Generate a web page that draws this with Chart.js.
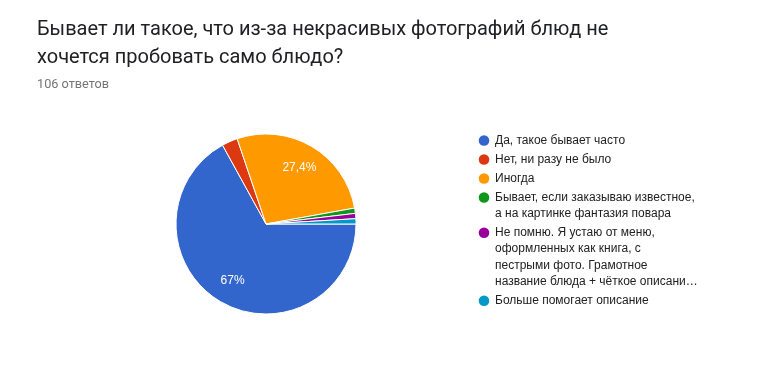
<!DOCTYPE html>
<html>
<head>
<meta charset="utf-8">
<script src="https://cdn.jsdelivr.net/npm/chart.js@4"></script>
<style>
  body { margin: 0; background: #fff; }
  #wrap { position: relative; width: 763px; height: 370px; overflow: hidden; }
  #title { position: absolute; left: 37px; top: 14px; font: 20px Roboto, Arial, sans-serif; line-height: 28px; color: #202124; white-space: nowrap; }
  #sub { position: absolute; left: 37px; top: 76px; font: 12.7px Roboto, Arial, sans-serif; line-height: 16px; color: #757575; }
  #myChart { position: absolute; left: 0; top: 0; }
</style>
</head>
<body>
<div id="wrap">
  <canvas id="myChart" width="763" height="370"></canvas>
  <div id="title">Бывает ли такое, что из-за некрасивых фотографий блюд не<br>хочется пробовать само блюдо?</div>
  <div id="sub">106 ответов</div>
</div>
<script>
// категории (по строкам, как в легенде)
const categories = [
    ['Да, такое бывает часто'],
    ['Нет, ни разу не было'],
    ['Иногда'],
    ['Бывает, если заказываю известное,', 'а на картинке фантазия повара'],
    ['Не помню. Я устаю от меню,', 'оформленных как книга, с', 'пестрыми фото. Грамотное', 'название блюда + чёткое описани…'],
    ['Больше помогает описание']
];
// количество ответов
const answers = [71, 3, 29, 1, 1, 1];
const colors = ['#3366cc', '#dc3912', '#ff9900', '#109618', '#990099', '#0099c6'];

// подписи процентов внутри секторов
const sliceLabels = {
    id: 'sliceLabels',
    afterDatasetsDraw(chart) {
        const ctx = chart.ctx;
        const meta = chart.getDatasetMeta(0);
        const total = answers.reduce((a, b) => a + b, 0);
        ctx.save();
        ctx.fillStyle = '#fff';
        ctx.font = '12px Arial, "Liberation Sans", sans-serif';
        ctx.textAlign = 'center';
        ctx.textBaseline = 'middle';
        meta.data.forEach((arc, i) => {
            const pct = answers[i] / total * 100;
            if (pct < 5) return;
            const mid = (arc.startAngle + arc.endAngle) / 2;
            const r = arc.outerRadius * 0.73;
            const txt = String(parseFloat(pct.toPrecision(3))).replace('.', ',') + '%';
            ctx.fillText(txt, arc.x + Math.cos(mid) * r, arc.y + Math.sin(mid) * r);
        });
        ctx.restore();
    }
};

// легенда справа
const sideLegend = {
    id: 'sideLegend',
    afterDraw(chart) {
        const ctx = chart.ctx;
        let y = 140.5;
        ctx.save();
        ctx.font = '12px Arial, "Liberation Sans", sans-serif';
        ctx.textBaseline = 'middle';
        categories.forEach((lines, i) => {
            ctx.fillStyle = colors[i];
            ctx.beginPath();
            ctx.arc(484, y, 5.3, 0, Math.PI * 2);
            ctx.fill();
            ctx.fillStyle = '#222';
            lines.forEach((line, j) => {
                ctx.fillText(line, 495, y + j * 16.3);
            });
            y += (lines.length - 1) * 16.3 + 19;
        });
        ctx.restore();
    }
};

const ctx = document.getElementById('myChart').getContext('2d');
new Chart(ctx, {
    type: 'pie',
    data: {
        labels: categories,
        datasets: [{
            data: answers,
            backgroundColor: colors,
            borderColor: '#fff',
            borderWidth: 1,
            hoverOffset: 0,
            radius: 90
        }]
    },
    options: {
        responsive: false,
        animation: false,
        devicePixelRatio: 1,
        rotation: 90,
        layout: { padding: { left: 176, right: 407, top: 134, bottom: 56 } },
        plugins: {
            legend: { display: false },
            tooltip: { enabled: false }
        }
    },
    plugins: [sliceLabels, sideLegend]
});
</script>
</body>
</html>
